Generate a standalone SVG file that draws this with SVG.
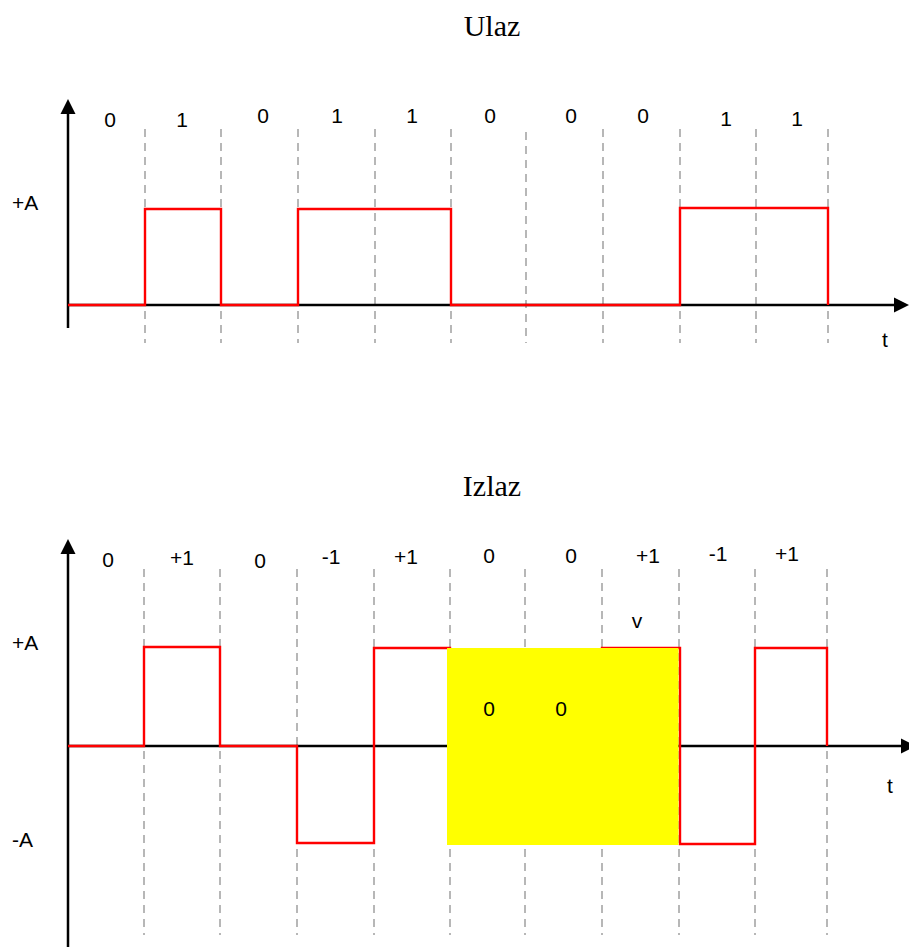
<svg xmlns="http://www.w3.org/2000/svg" width="909" height="947" viewBox="0 0 909 947">
<style>
.title{font-family:"Liberation Serif","Times New Roman",serif;font-size:30px;fill:#000;text-anchor:middle}
.lbl{font-family:"Liberation Sans",Arial,sans-serif;font-size:21px;fill:#000;text-anchor:middle}
.lvl{font-family:"Liberation Sans",Arial,sans-serif;font-size:21px;fill:#000}
.axis{stroke:#000;stroke-width:2.5;fill:none}
.grid{stroke:#a6a6a6;stroke-width:1.6;stroke-dasharray:8 6;fill:none}
.sig{stroke:#ff0000;stroke-width:2.4;fill:none;stroke-linejoin:miter}
.head{fill:#000}
</style>
<rect width="909" height="947" fill="#fff"/>

<g id="top-chart">
  <text class="title" x="492" y="36">Ulaz</text>
  <g id="top-grid">
    <line class="grid" x1="145" y1="129" x2="145" y2="343"/>
    <line class="grid" x1="221" y1="129" x2="221" y2="343"/>
    <line class="grid" x1="298" y1="129" x2="298" y2="343"/>
    <line class="grid" x1="375" y1="129" x2="375" y2="343"/>
    <line class="grid" x1="451" y1="129" x2="451" y2="343"/>
    <line class="grid" x1="526" y1="132" x2="526" y2="343"/>
    <line class="grid" x1="603" y1="129" x2="603" y2="343"/>
    <line class="grid" x1="680" y1="129" x2="680" y2="343"/>
    <line class="grid" x1="756" y1="129" x2="756" y2="343"/>
    <line class="grid" x1="828" y1="129" x2="828" y2="343"/>
  </g>
  <g id="top-axes">
    <line class="axis" x1="68" y1="112" x2="68" y2="328"/>
    <polygon class="head" points="68,99 60.5,114 75.5,114"/>
    <line class="axis" x1="68" y1="305" x2="896" y2="305"/>
    <polygon class="head" points="909,305 894,297.5 894,312.5"/>
  </g>
  <path id="top-signal" class="sig" d="M68,305 H145 V209 H221 V305 H298 V209 H451 V305 H680 V208 H828 V305"/>
  <g id="top-labels">
    <text class="lvl" x="12" y="210">+A</text>
    <text class="lvl" x="882" y="347">t</text>
    <text class="lbl" x="110" y="127">0</text>
    <text class="lbl" x="182" y="127">1</text>
    <text class="lbl" x="263" y="123">0</text>
    <text class="lbl" x="337" y="123">1</text>
    <text class="lbl" x="412" y="123">1</text>
    <text class="lbl" x="490" y="123">0</text>
    <text class="lbl" x="571" y="123">0</text>
    <text class="lbl" x="643" y="123">0</text>
    <text class="lbl" x="726" y="126">1</text>
    <text class="lbl" x="797" y="126">1</text>
  </g>
</g>

<g id="bottom-chart">
  <text class="title" x="492" y="496">Izlaz</text>
  <g id="bottom-grid">
    <line class="grid" x1="144" y1="569" x2="144" y2="935"/>
    <line class="grid" x1="220" y1="569" x2="220" y2="935"/>
    <line class="grid" x1="297" y1="569" x2="297" y2="935"/>
    <line class="grid" x1="374" y1="569" x2="374" y2="935"/>
    <line class="grid" x1="450" y1="569" x2="450" y2="935"/>
    <line class="grid" x1="525" y1="569" x2="525" y2="935"/>
    <line class="grid" x1="602" y1="569" x2="602" y2="935"/>
    <line class="grid" x1="679" y1="569" x2="679" y2="935"/>
    <line class="grid" x1="755" y1="569" x2="755" y2="935"/>
    <line class="grid" x1="827" y1="569" x2="827" y2="935"/>
  </g>
  <g id="bottom-axes">
    <line class="axis" x1="68" y1="552" x2="68" y2="947"/>
    <polygon class="head" points="68,539 60.5,554 75.5,554"/>
    <line class="axis" x1="68" y1="746" x2="903" y2="746"/>
    <polygon class="head" points="916,746 901,738.5 901,753.5"/>
  </g>
  <path id="bottom-signal" class="sig" d="M68,746 H144 V647 H220 V746 H297 V843 H374 V648 H450 V746 H602 V648 H680 V844 H755 V648 H827 V746"/>
  <rect id="highlight" x="447" y="648" width="231.5" height="197" fill="#ffff00"/>
  <g id="bottom-labels">
    <text class="lvl" x="12" y="650">+A</text>
    <text class="lvl" x="12" y="847">-A</text>
    <text class="lvl" x="887" y="793">t</text>
    <text class="lbl" x="108" y="567">0</text>
    <text class="lbl" x="182" y="565">+1</text>
    <text class="lbl" x="260" y="568">0</text>
    <text class="lbl" x="331" y="564">-1</text>
    <text class="lbl" x="406" y="564">+1</text>
    <text class="lbl" x="489" y="563">0</text>
    <text class="lbl" x="571" y="563">0</text>
    <text class="lbl" x="648" y="563">+1</text>
    <text class="lbl" x="718" y="561">-1</text>
    <text class="lbl" x="787" y="561">+1</text>
    <text class="lbl" x="637" y="628">v</text>
    <text class="lbl" x="489" y="716">0</text>
    <text class="lbl" x="561" y="716">0</text>
  </g>
</g>
</svg>
